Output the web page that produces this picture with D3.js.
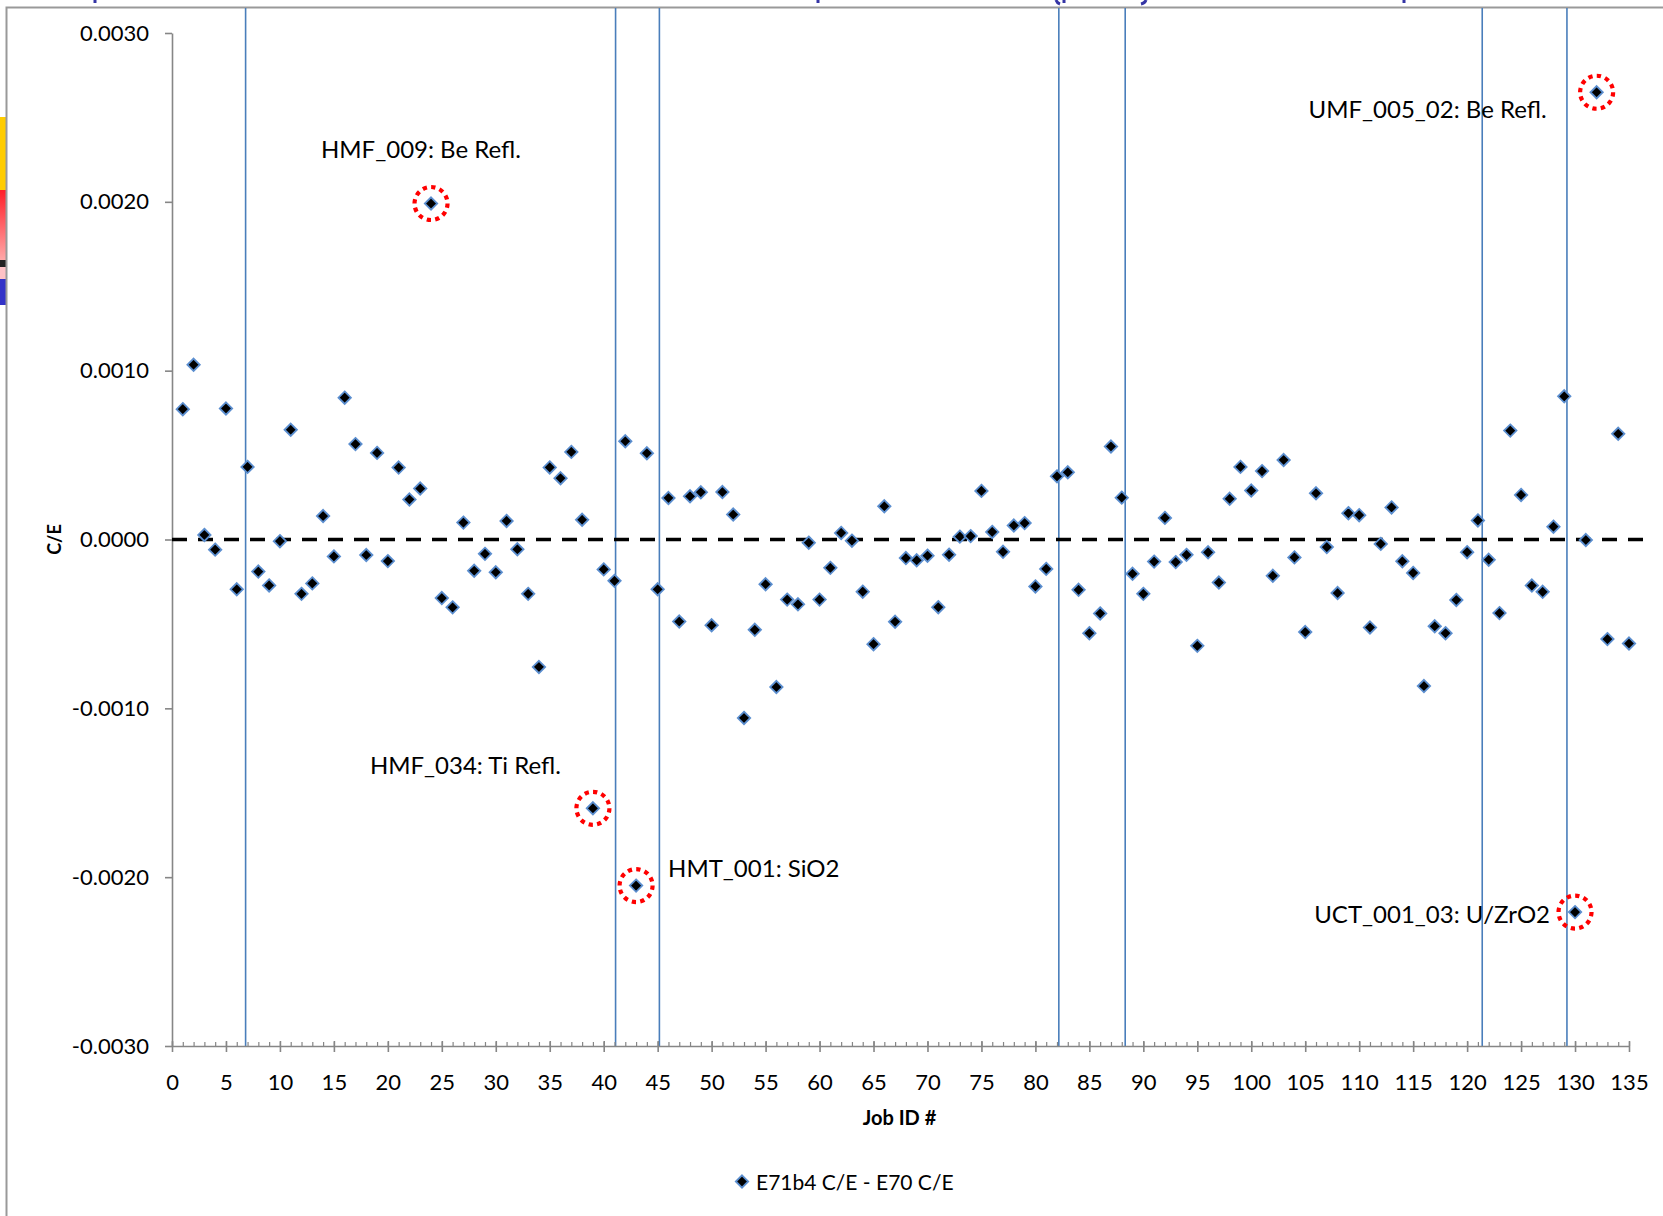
<!DOCTYPE html>
<html>
<head>
<meta charset="utf-8">
<script src="https://cdn.jsdelivr.net/npm/d3@7"></script>
<style>
  html, body { margin: 0; padding: 0; background: #fff; }
  svg { display: block; font-family: Lato, "Open Sans", "DejaVu Sans", sans-serif; }
</style>
</head>
<body>
<svg id="chart" width="1663" height="1216"></svg>
<script>
// ---------------- data ----------------
const jobIds = [
  1,2,3,4,5,6,7,8,9,10,11,12,13,14,15,16,17,18,19,20,
  21,22,23,24,25,26,27,28,29,30,31,32,33,34,35,36,37,38,39,40,
  41,42,43,44,45,46,47,48,49,50,51,52,53,54,55,56,57,58,59,60,
  61,62,63,64,65,66,67,68,69,70,71,72,73,74,75,76,77,78,79,80,
  81,82,83,84,85,86,87,88,89,90,91,92,93,94,95,96,97,98,99,100,
  101,102,103,104,105,106,107,108,109,110,111,112,113,114,115,116,117,118,119,120,
  121,122,123,124,125,126,127,128,129,130,131,132,133,134,135
];
// E71b4 C/E - E70 C/E
const ceDiff = [
  0.000772, 0.001035, 0.000027, -0.000060, 0.000776, -0.000295, 0.000430, -0.000190, -0.000272, -0.000010,
  0.000650, -0.000322, -0.000260, 0.000139, -0.000100, 0.000840, 0.000565, -0.000092, 0.000513, -0.000128,
  0.000426, 0.000237, 0.000302, 0.001990, -0.000347, -0.000402, 0.000100, -0.000185, -0.000085, -0.000194,
  0.000110, -0.000058, -0.000322, -0.000755, 0.000427, 0.000363, 0.000519, 0.000117, -0.001592, -0.000177,
  -0.000245, 0.000582, -0.002050, 0.000511, -0.000295, 0.000246, -0.000486, 0.000256, 0.000280, -0.000508,
  0.000281, 0.000148, -0.001057, -0.000535, -0.000265, -0.000874, -0.000356, -0.000384, -0.000019, -0.000356,
  -0.000168, 0.000039, -0.000007, -0.000309, -0.000620, 0.000197, -0.000487, -0.000110, -0.000123, -0.000096,
  -0.000401, -0.000090, 0.000017, 0.000020, 0.000288, 0.000045, -0.000073, 0.000083, 0.000097, -0.000278,
  -0.000174, 0.000374, 0.000398, -0.000298, -0.000555, -0.000438, 0.000551, 0.000248, -0.000203, -0.000322,
  -0.000131, 0.000128, -0.000134, -0.000091, -0.000630, -0.000076, -0.000255, 0.000241, 0.000430, 0.000290,
  0.000405, -0.000215, 0.000471, -0.000106, -0.000548, 0.000274, -0.000045, -0.000317, 0.000156, 0.000144,
  -0.000521, -0.000026, 0.000190, -0.000129, -0.000198, -0.000868, -0.000514, -0.000555, -0.000358, -0.000075,
  0.000113, -0.000120, -0.000436, 0.000645, 0.000264, -0.000273, -0.000310, 0.000076, 0.000848, -0.002207,
  -0.000003, 0.002649, -0.000590, 0.000626, -0.000616
];
const seriesName = "E71b4 C/E  - E70 C/E";

const xTicks = [0,5,10,15,20,25,30,35,40,45,50,55,60,65,70,75,80,85,90,95,100,105,110,115,120,125,130,135];
const xMinorTicks = [
  0,1,2,3,4,5,6,7,8,9,10,11,12,13,14,15,16,17,18,19,20,21,22,23,24,25,26,27,28,29,30,
  31,32,33,34,35,36,37,38,39,40,41,42,43,44,45,46,47,48,49,50,51,52,53,54,55,56,57,58,59,60,
  61,62,63,64,65,66,67,68,69,70,71,72,73,74,75,76,77,78,79,80,81,82,83,84,85,86,87,88,89,90,
  91,92,93,94,95,96,97,98,99,100,101,102,103,104,105,106,107,108,109,110,111,112,113,114,115,
  116,117,118,119,120,121,122,123,124,125,126,127,128,129,130,131,132,133,134,135
];
const yTicks = [-0.003, -0.002, -0.001, 0, 0.001, 0.002, 0.003];
const yTickLabels = ["-0.0030", "-0.0020", "-0.0010", "0.0000", "0.0010", "0.0020", "0.0030"];

// boundaries between benchmark groups
const dividerJobs = [6.82, 41.1, 45.16, 82.17, 88.32, 121.4, 129.25];
// zero reference line extent
const zeroLineJobs = [0, 136.8];

// flagged outliers
const outlierJobs   = [24, 132, 39, 43, 130];
const outlierLabels = ["HMF_009: Be Refl.", "UMF_005_02: Be Refl.", "HMF_034: Ti Refl.", "HMT_001: SiO2", "UCT_001_03: U/ZrO2"];

const xTitle = "Job ID #";
const yTitle = "C/E";

// ---------------- layout ----------------
const svg = d3.select("#chart");
const W = 1663, H = 1216;
const plotL = 172, plotR = 1629, plotT = 33, plotB = 1046;
const axisColor = "#868686";

const x = d3.scaleLinear().domain([0, 135]).range([plotL, plotR]);
const y = d3.scaleLinear().domain([-0.003, 0.003]).range([plotB, plotT]);

svg.append("rect").attr("width", W).attr("height", H).attr("fill", "#fff");

// slide remnants: colour strip, frame, slivers of the cropped-off title
const strip = [
  {y0: 117, y1: 190, c: "#FFCC00"},
  {y0: 260, y1: 267, c: "#222222"},
  {y0: 267, y1: 279, c: "#FFC2C6"},
  {y0: 279, y1: 305, c: "#3333C8"}
];
const defs = svg.append("defs");
const grad = defs.append("linearGradient").attr("id", "redgrad").attr("x1", 0).attr("y1", 0).attr("x2", 0).attr("y2", 1);
grad.append("stop").attr("offset", "0%").attr("stop-color", "#FF1E28");
grad.append("stop").attr("offset", "100%").attr("stop-color", "#FFA8A8");
svg.append("rect").attr("x", 0).attr("y", 190).attr("width", 6).attr("height", 70).attr("fill", "url(#redgrad)");
svg.selectAll("rect.strip").data(strip).join("rect").attr("class", "strip")
  .attr("x", 0).attr("y", d => d.y0).attr("width", 6).attr("height", d => d.y1 - d.y0).attr("fill", d => d.c);
svg.append("path").attr("d", `M6.5,${H} V7.5 H${W}`).attr("fill", "none").attr("stroke", "#999").attr("stroke-width", 2);
svg.append("path")
  .attr("d", "M95,0v3 M818,0v3 M1056,0 q1,3 4,4 M1064,0v3 M1146,0 q-1,3 -5,4 M1404,0v3")
  .attr("fill", "none").attr("stroke", "#3535A5").attr("stroke-width", 3);

// group divider lines
svg.append("g").selectAll("line").data(dividerJobs).join("line")
  .attr("x1", d => x(d)).attr("x2", d => x(d))
  .attr("y1", 8).attr("y2", plotB)
  .attr("stroke", "#4A7EBB").attr("stroke-width", 1.6);

// y axis
const yAxis = d3.axisLeft(y).tickValues(yTicks).tickSizeInner(7).tickSizeOuter(0).tickPadding(16)
  .tickFormat((d, i) => yTickLabels[i]);
const gy = svg.append("g").attr("transform", `translate(${plotL},0)`).call(yAxis);
gy.select(".domain").attr("stroke", axisColor).attr("stroke-width", 1.6);
gy.selectAll(".tick line").attr("stroke", axisColor).attr("stroke-width", 1.6);
gy.selectAll(".tick text").attr("font-size", 22).attr("fill", "#000").attr("font-family", "Lato, sans-serif");

// x axis: minor ticks (inside), major ticks (crossing)
const gxMinor = svg.append("g").attr("transform", `translate(0,${plotB})`)
  .call(d3.axisBottom(x).tickValues(xMinorTicks).tickSizeInner(-4).tickSizeOuter(0).tickFormat(""));
gxMinor.select(".domain").attr("stroke", axisColor).attr("stroke-width", 1.6);
gxMinor.selectAll(".tick line").attr("stroke", axisColor).attr("stroke-width", 1.2);

const gx = svg.append("g").attr("transform", `translate(0,${plotB})`)
  .call(d3.axisBottom(x).tickValues(xTicks).tickSizeInner(6).tickSizeOuter(0).tickPadding(22).tickFormat(d3.format("d")));
gx.select(".domain").remove();
gx.selectAll(".tick line").attr("y1", -5).attr("stroke", axisColor).attr("stroke-width", 1.6);
gx.selectAll(".tick text").attr("font-size", 22).attr("fill", "#000").attr("font-family", "Lato, sans-serif");

// zero reference
svg.append("line")
  .attr("x1", x(zeroLineJobs[0])).attr("x2", x(zeroLineJobs[1]))
  .attr("y1", y(0)).attr("y2", y(0))
  .attr("stroke", "#000").attr("stroke-width", 3.6).attr("stroke-dasharray", "15,11");

// points
const diamond = r => `M0,${-r}L${r},0L0,${r}L${-r},0Z`;
const pts = jobIds.map((j, i) => ({j, v: ceDiff[i]}));
svg.append("g").selectAll("path").data(pts).join("path")
  .attr("d", diamond(6.2))
  .attr("transform", d => `translate(${x(d.j)},${y(d.v)})`)
  .attr("fill", "#000").attr("stroke", "#5B8ECF").attr("stroke-width", 1.8);

// outlier circles and labels
const labelOffsets = [
  {dx: -110, dy: -46, anchor: "start"},
  {dx: -50,  dy: 26,  anchor: "end"},
  {dx: -32,  dy: -34, anchor: "end"},
  {dx: 32,   dy: -9,  anchor: "start"},
  {dx: -25,  dy: 11,  anchor: "end"}
];
const outliers = outlierJobs.map((j, i) => ({j, v: ceDiff[jobIds.indexOf(j)], label: outlierLabels[i], o: labelOffsets[i]}));
const og = svg.append("g");
og.selectAll("circle").data(outliers).join("circle")
  .attr("cx", d => x(d.j)).attr("cy", d => y(d.v)).attr("r", 16.5)
  .attr("fill", "none").attr("stroke", "#FF0000").attr("stroke-width", 4.2).attr("stroke-dasharray", "4.3,4.3");
og.selectAll("text").data(outliers).join("text")
  .attr("x", d => x(d.j) + d.o.dx).attr("y", d => y(d.v) + d.o.dy)
  .attr("text-anchor", d => d.o.anchor)
  .attr("font-size", 24).attr("fill", "#000")
  .text(d => d.label);

// axis titles
svg.append("text").attr("x", (plotL + plotR) / 2 - 1).attr("y", 1125)
  .attr("text-anchor", "middle").attr("font-size", 20).attr("font-weight", "bold").text(xTitle);
svg.append("text").attr("transform", `translate(61,${y(0)}) rotate(-90)`)
  .attr("text-anchor", "middle").attr("font-size", 18).attr("font-weight", "bold").text(yTitle);

// legend
const lg = svg.append("g").attr("transform", "translate(742,1181.5)");
lg.append("path").attr("d", diamond(6.2)).attr("fill", "#000").attr("stroke", "#5B8ECF").attr("stroke-width", 1.8);
lg.append("text").attr("x", 14).attr("y", 8).attr("font-size", 21).attr("fill", "#000").text(seriesName);
</script>
</body>
</html>
